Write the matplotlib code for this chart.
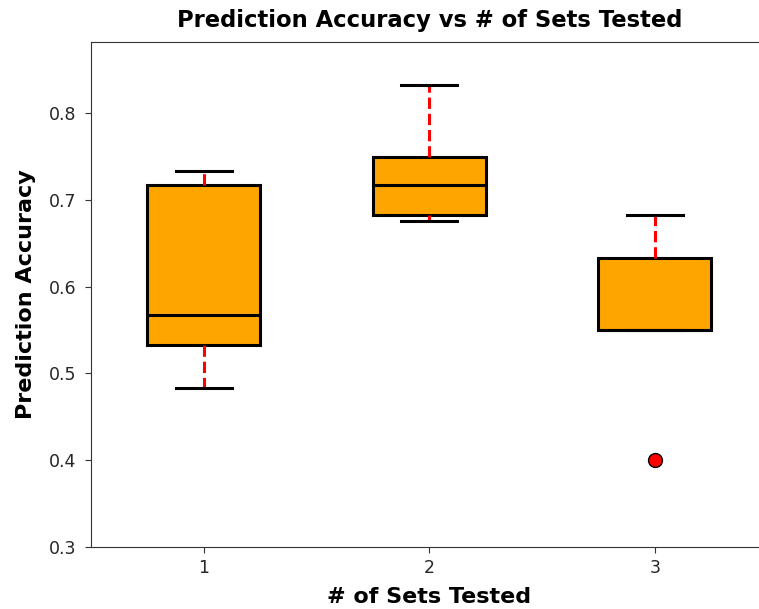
import matplotlib
matplotlib.use("Agg")
from matplotlib import pyplot as plt

# values
sets_tested = [1, 2, 3]
whislo = [0.483, 0.676, 0.550]
q1 = [0.533, 0.683, 0.550]
med = [0.567, 0.717, 0.550]
q3 = [0.717, 0.750, 0.633]
whishi = [0.733, 0.833, 0.683]
fliers = [[], [], [0.400]]

stats = []
for i in range(len(sets_tested)):
    stats.append({'whislo': whislo[i], 'q1': q1[i], 'med': med[i], 'q3': q3[i],
                  'whishi': whishi[i], 'fliers': fliers[i], 'label': str(sets_tested[i])})

fig = plt.figure(figsize=(7.59, 6.09), dpi=100)
ax = fig.add_axes([91 / 759, 62 / 609, 676.5 / 759, 505 / 609])

ax.bxp(stats, positions=sets_tested, widths=0.5, patch_artist=True,
       boxprops=dict(facecolor='orange', edgecolor='black', linewidth=2.2),
       medianprops=dict(color='black', linewidth=2.2),
       whiskerprops=dict(color='red', linestyle='--', linewidth=2.2),
       capprops=dict(color='black', linewidth=2.2),
       flierprops=dict(marker='o', markerfacecolor='red', markeredgecolor='black',
                       markersize=10))

ax.set_xlim(0.5, 3.5)
ax.set_ylim(0.3, 0.882)
ax.set_yticks([0.3, 0.4, 0.5, 0.6, 0.7, 0.8])
ax.tick_params(labelsize=12.5, labelcolor='#262626', color='#333333', length=4.5)
ax.tick_params(axis='y', pad=6)
ax.tick_params(axis='x', pad=4)
for s in ax.spines.values():
    s.set_color('#333333')

ax.set_title('Prediction Accuracy vs # of Sets Tested', fontsize=16.3, fontweight='bold', pad=11)
ax.set_xlabel('# of Sets Tested', fontsize=16, fontweight='bold', labelpad=7)
ax.set_ylabel('Prediction Accuracy', fontsize=16, fontweight='bold', labelpad=9.5)

fig.savefig('out.png', dpi=100)
